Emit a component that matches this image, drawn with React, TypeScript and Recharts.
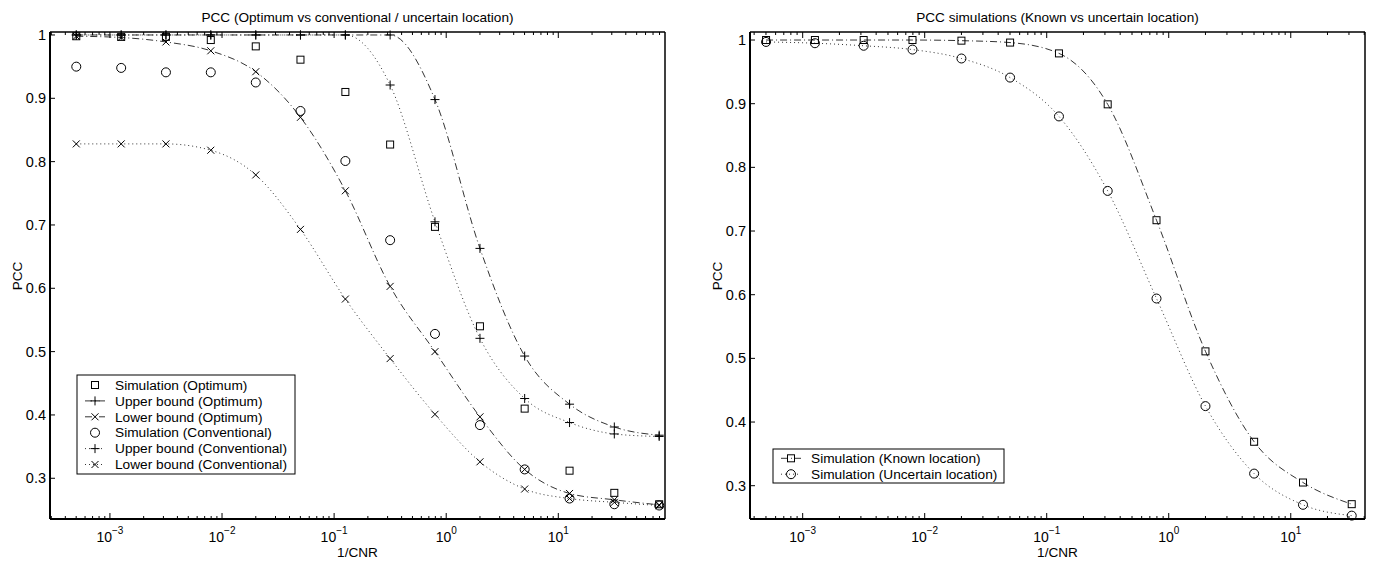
import React from 'react';
import { ComposedChart, Line, XAxis, YAxis } from 'recharts';

// 1/CNR sample points (CNR 33 dB down to -19 dB, 4 dB steps)
const invCnr = [0.000501, 0.00126, 0.00316, 0.00794, 0.02, 0.0501, 0.126, 0.316, 0.794, 2.0, 5.01, 12.6, 31.6, 79.4];

// left panel: optimum vs conventional detector, uncertain location
const simOptimum = [0.998, 0.997, 0.997, 0.992, 0.982, 0.961, 0.91, 0.827, 0.697, 0.54, 0.41, 0.312, 0.277, 0.259];
const upperOptimum = [1.0, 1.0, 1.0, 1.0, 1.0, 1.0, 1.0, 1.0, 0.898, 0.663, 0.493, 0.417, 0.381, 0.368];
const lowerOptimum = [0.998, 0.996, 0.989, 0.975, 0.942, 0.87, 0.754, 0.603, 0.5, 0.397, 0.314, 0.276, 0.266, 0.258];
const simConventional = [0.95, 0.948, 0.941, 0.941, 0.925, 0.88, 0.801, 0.676, 0.528, 0.384, 0.314, 0.268, 0.259, 0.257];
const upperConventional = [1.0, 1.0, 1.0, 1.0, 1.0, 1.0, 1.0, 0.921, 0.705, 0.521, 0.426, 0.388, 0.37, 0.366];
const lowerConventional = [0.828, 0.828, 0.828, 0.818, 0.779, 0.693, 0.583, 0.489, 0.401, 0.326, 0.283, 0.268, 0.262, 0.257];

// right panel: known vs uncertain location (13 points)
const simKnown = [1.0, 1.0, 1.0, 1.0, 0.999, 0.996, 0.979, 0.899, 0.717, 0.511, 0.369, 0.305, 0.271];
const simUncertain = [0.997, 0.995, 0.991, 0.985, 0.971, 0.941, 0.88, 0.763, 0.594, 0.425, 0.319, 0.27, 0.253];

// axis ticks
const majorX = [0.001, 0.01, 0.1, 1, 10];
const majorExp = [-3, -2, -1, 0, 1];
const decades = [0.0001, 0.001, 0.01, 0.1, 1, 10];
const yTicks = [0.3, 0.4, 0.5, 0.6, 0.7, 0.8, 0.9, 1];

const leftTable = invCnr.map((x, i) => ({
  x,
  simOpt: simOptimum[i],
  upOpt: upperOptimum[i],
  lowOpt: lowerOptimum[i],
  simConv: simConventional[i],
  upConv: upperConventional[i],
  lowConv: lowerConventional[i],
}));

const rightTable = simKnown.map((v, i) => ({
  x: invCnr[i],
  known: v,
  uncertain: simUncertain[i],
}));

const FONT = '"Liberation Sans", Arial, Helvetica, sans-serif';
const DOTTED = '1 3';
const DASH_DOT = '7 3 1 3';

type MarkerKind = 'square' | 'plus' | 'cross' | 'circle';

interface SeriesDef {
  key: string;
  name: string;
  marker: MarkerKind;
  dash: string | null;
}

const leftSeries: SeriesDef[] = [
  { key: 'simOpt', name: 'Simulation (Optimum)', marker: 'square', dash: null },
  { key: 'upOpt', name: 'Upper bound (Optimum)', marker: 'plus', dash: DASH_DOT },
  { key: 'lowOpt', name: 'Lower bound (Optimum)', marker: 'cross', dash: DASH_DOT },
  { key: 'simConv', name: 'Simulation (Conventional)', marker: 'circle', dash: null },
  { key: 'upConv', name: 'Upper bound (Conventional)', marker: 'plus', dash: DOTTED },
  { key: 'lowConv', name: 'Lower bound (Conventional)', marker: 'cross', dash: DOTTED },
];

const rightSeries: SeriesDef[] = [
  { key: 'known', name: 'Simulation (Known location)', marker: 'square', dash: DASH_DOT },
  { key: 'uncertain', name: 'Simulation (Uncertain location)', marker: 'circle', dash: DOTTED },
];

function Marker({ kind, cx, cy }: { kind: MarkerKind; cx: number; cy: number }) {
  if (cx == null || cy == null || isNaN(cx) || isNaN(cy)) return null;
  const s = { fill: 'none', stroke: '#000', strokeWidth: 1 };
  if (kind === 'square') return <rect x={cx - 3.5} y={cy - 3.5} width={7} height={7} {...s} />;
  if (kind === 'circle') return <circle cx={cx} cy={cy} r={4.5} {...s} />;
  if (kind === 'plus')
    return <path d={`M${cx - 4.5},${cy}H${cx + 4.5}M${cx},${cy - 4.5}V${cy + 4.5}`} {...s} />;
  return (
    <path
      d={`M${cx - 3.5},${cy - 3.5}L${cx + 3.5},${cy + 3.5}M${cx - 3.5},${cy + 3.5}L${cx + 3.5},${cy - 3.5}`}
      {...s}
    />
  );
}

function logTicks(domain: [number, number]) {
  const out: number[] = [];
  decades.forEach((d) => {
    for (let m = 1; m <= 9; m++) {
      const v = m * d;
      if (v >= domain[0] && v <= domain[1]) out.push(v);
    }
  });
  return out;
}

function majorIndex(v: number) {
  return majorX.findIndex((m) => Math.abs(v - m) < m * 1e-6);
}

function XTick(props: any) {
  const { x, y, payload, side } = props;
  const idx = majorIndex(payload.value);
  const len = idx >= 0 ? 6 : 3;
  const dir = side === 'bottom' ? -1 : 1;
  const e = idx >= 0 ? majorExp[idx] : 0;
  return (
    <g>
      <line x1={x} y1={y} x2={x} y2={y + dir * len} stroke="#000" strokeWidth={1} />
      {idx >= 0 && side === 'bottom' && (
        <text x={x} y={y + 23} textAnchor="middle" fontSize={14} fontFamily={FONT} fill="#000">
          10
          <tspan dy={-8} fontSize={10}>
            {e < 0 ? '\u2212' + Math.abs(e) : String(e)}
          </tspan>
        </text>
      )}
    </g>
  );
}

function YTick(props: any) {
  const { x, y, payload, side } = props;
  const v = payload.value as number;
  const dir = side === 'left' ? 1 : -1;
  return (
    <g>
      <line x1={x} y1={y} x2={x + dir * 5} y2={y} stroke="#000" strokeWidth={1} />
      {side === 'left' && (
        <text x={x - 4} y={y} dy="0.35em" textAnchor="end" fontSize={14.5} fontFamily={FONT} fill="#000">
          {v === 1 ? '1' : v.toFixed(1)}
        </text>
      )}
    </g>
  );
}

function Panel(props: {
  data: any[];
  series: SeriesDef[];
  xDomain: [number, number];
  yDomain: [number, number];
  left: number;
}) {
  const { data, series, xDomain, yDomain, left } = props;
  const ticks = logTicks(xDomain);
  return (
    <div style={{ position: 'absolute', left, top: 0 }}>
      <ComposedChart width={685} height={562} data={data} margin={{ top: 0, right: 0, bottom: 0, left: 0 }}>
        <XAxis
          xAxisId="b"
          dataKey="x"
          type="number"
          scale="log"
          domain={xDomain}
          ticks={ticks}
          interval={0}
          tickSize={0}
          tickMargin={0}
          height={43}
          axisLine={{ stroke: '#000', strokeWidth: 2 }}
          tickLine={false}
          tick={(p: any) => <XTick {...p} side="bottom" />}
        />
        <XAxis
          xAxisId="t"
          orientation="top"
          dataKey="x"
          type="number"
          scale="log"
          domain={xDomain}
          ticks={ticks}
          interval={0}
          tickSize={0}
          tickMargin={0}
          height={32}
          axisLine={{ stroke: '#000', strokeWidth: 1.5 }}
          tickLine={false}
          tick={(p: any) => <XTick {...p} side="top" />}
        />
        <YAxis
          yAxisId="l"
          type="number"
          domain={yDomain}
          ticks={yTicks}
          interval={0}
          tickSize={0}
          tickMargin={0}
          width={50}
          axisLine={{ stroke: '#000', strokeWidth: 2 }}
          tickLine={false}
          tick={(p: any) => <YTick {...p} side="left" />}
        />
        <YAxis
          yAxisId="r"
          orientation="right"
          type="number"
          domain={yDomain}
          ticks={yTicks}
          interval={0}
          tickSize={0}
          tickMargin={0}
          width={20}
          axisLine={{ stroke: '#000', strokeWidth: 1.5 }}
          tickLine={false}
          tick={(p: any) => <YTick {...p} side="right" />}
        />
        {series.map((s) => (
          <Line
            key={s.key}
            xAxisId="b"
            yAxisId="l"
            dataKey={s.key}
            name={s.name}
            type="monotone"
            stroke={s.dash ? '#000' : 'none'}
            strokeWidth={0.8}
            strokeDasharray={s.dash || undefined}
            dot={(p: any) => <Marker key={`${s.key}-${p.index}`} kind={s.marker} cx={p.cx} cy={p.cy} />}
            activeDot={false}
            isAnimationActive={false}
          />
        ))}
      </ComposedChart>
    </div>
  );
}

function LegendBox(props: { series: SeriesDef[]; x: number; y: number; w: number; h: number; row0: number }) {
  const { series, x, y, w, h, row0 } = props;
  return (
    <g>
      <rect x={x} y={y} width={w} height={h} fill="#fff" stroke="#000" strokeWidth={1} />
      {series.map((s, i) => {
        const cy = row0 + i * 15.9;
        const mx = x + 18;
        return (
          <g key={s.key}>
            {s.dash && (
              <line x1={mx - 10} y1={cy} x2={mx + 10} y2={cy} stroke="#000" strokeWidth={0.8} strokeDasharray={s.dash} />
            )}
            <Marker kind={s.marker} cx={mx} cy={cy} />
            <text x={x + 38} y={cy} dy="0.35em" fontSize={13.7} fontFamily={FONT} fill="#000">
              {s.name}
            </text>
          </g>
        );
      })}
    </g>
  );
}

export default function App() {
  return (
    <div style={{ position: 'fixed', left: 0, top: 0, width: 1374, height: 562, background: '#fff' }}>
      <Panel data={leftTable} series={leftSeries} xDomain={[0.000292, 89.5]} yDomain={[0.2357, 1.0047]} left={0} />
      <Panel data={rightTable} series={rightSeries} xDomain={[0.00037, 40.6]} yDomain={[0.2477, 1.0126]} left={700} />
      <svg
        width={1374}
        height={562}
        style={{ position: 'absolute', left: 0, top: 0, pointerEvents: 'none' }}
        fontFamily={FONT}
      >
        <text x={357.5} y={21.5} textAnchor="middle" fontSize={13.6}>
          PCC (Optimum vs conventional / uncertain location)
        </text>
        <text x={1057.5} y={21.5} textAnchor="middle" fontSize={13.6}>
          PCC simulations (Known vs uncertain location)
        </text>
        <text x={357.5} y={556.5} textAnchor="middle" fontSize={13.6}>
          1/CNR
        </text>
        <text x={1057.5} y={556.5} textAnchor="middle" fontSize={13.6}>
          1/CNR
        </text>
        <text transform="translate(21.5,276) rotate(-90)" textAnchor="middle" fontSize={13.6}>
          PCC
        </text>
        <text transform="translate(721.5,276) rotate(-90)" textAnchor="middle" fontSize={13.6}>
          PCC
        </text>
        <LegendBox series={leftSeries} x={77} y={375} w={218} h={99} row0={385} />
        <LegendBox series={rightSeries} x={773} y={449} w={231} h={34} row0={458.3} />
      </svg>
    </div>
  );
}
